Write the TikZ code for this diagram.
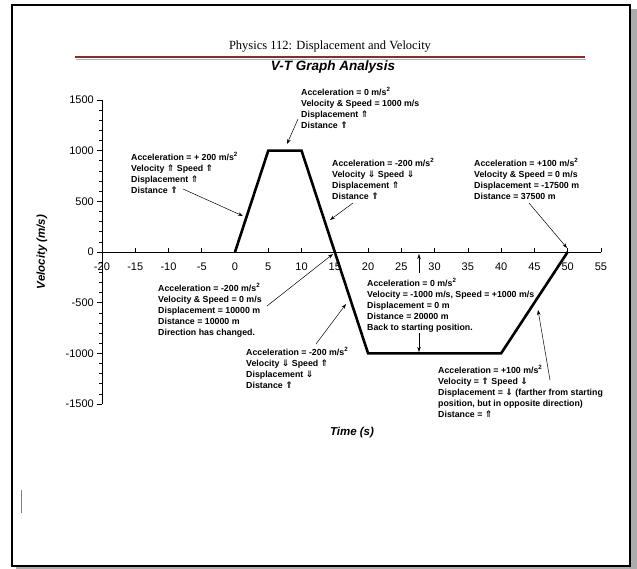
\documentclass[tikz,border=0pt]{standalone}
\usepackage{fontspec}
\setmainfont{Liberation Sans}
\newfontfamily\seriff{Liberation Serif}
\newfontfamily\arrf{DejaVu Sans}
\usetikzlibrary{arrows.meta}
\newcommand\myup{{\arrf\fontsize{9}{11}\selectfont ⇑}}
\newcommand\mydn{{\arrf\fontsize{9}{11}\selectfont ⇓}}
\newcommand\msq{m/s\textsuperscript{2}}
\tikzset{
  ann/.style={anchor=north west, inner sep=0pt, align=left, font=\fontsize{8.8}{11}\selectfont\bfseries},
  arr/.style={line width=0.5pt, -{Stealth[length=5pt,width=3.5pt]}},
  ticklab/.style={inner sep=0pt, font=\fontsize{11}{12}\selectfont},
  curve/.style={line width=2.6pt, line join=miter},
  axisline/.style={line width=0.6pt},
}
\begin{document}
\begin{tikzpicture}[x=1pt,y=-1pt]
\useasboundingbox (0,0) rectangle (637,569);
% page frame with shadow
\fill[gray!65] (16,9) rectangle (637,569);
\filldraw[fill=white, draw=black, line width=1.5pt] (12,5) rectangle (630,566);
% cursor mark
\draw[gray, line width=0.7pt] (21,490) -- (21,513);
% header
\node[inner sep=0pt, font=\seriff\fontsize{12.5}{14}\selectfont] (hdr) at (330,47) {Physics 112: Displacement and Velocity};
\draw[gray!60, line width=0.8pt] (76,59.5) -- (586,59.5);
\draw[color={rgb,255:red,135;green,45;blue,45}, line width=2.4pt] (75,57) -- (585,57);
\node[inner sep=0pt, font=\fontsize{13.5}{15}\selectfont\bfseries\itshape] (ttl) at (333,67) {V-T Graph Analysis};
% axis titles
\node[inner sep=0pt, rotate=90, font=\fontsize{11.5}{13}\selectfont\bfseries\itshape] (ylab) at (42,252) {Velocity (m/s)};
\node[inner sep=0pt, font=\fontsize{11.5}{13}\selectfont\bfseries\itshape] (xlab) at (352,433) {Time (s)};
% plot
\begin{scope}[shift={(235,252)}, x=6.653pt, y=0.10133pt]
  \draw[axisline] (-20,0) -- (55,0);
  \draw[axisline] (-20,-1500) -- (-20,1500);
  \foreach \v in {-1500,-1400,...,1500} \draw[axisline] (-20,\v) -- ++(-2.5pt,0);
  \foreach \v [count=\i] in {-1500,-1000,...,1500} {
    \draw[axisline] (-20,\v) -- ++(-4.5pt,0);
    \node[ticklab, anchor=east] (yl\i) at ([xshift=-8pt]-20,\v) {\v};
  }
  \foreach \t [count=\i] in {-20,-15,...,55} {
    \draw[axisline] (\t,0) -- ++(0,3.5pt);
    \node[ticklab] (xl\i) at ([yshift=-15pt]\t,0) {\t};
  }
  \draw[curve] (0,0) -- (5,1000) -- (10,1000) -- (20,-1000) -- (40,-1000) -- (50,0);
\end{scope}
% annotations
\node[ann] (a1) at (301,87) {Acceleration = 0 \msq\\Velocity \& Speed = 1000 m/s\\Displacement \myup\\Distance \myup};
\node[ann] (a2) at (131,152) {Acceleration = + 200 \msq\\Velocity \myup{} Speed \myup\\Displacement \myup\\Distance \myup};
\node[ann] (a3) at (332,158) {Acceleration = -200 \msq\\Velocity \mydn{} Speed \mydn\\Displacement \myup\\Distance \myup};
\node[ann] (a4) at (474,158) {Acceleration = +100 \msq\\Velocity \& Speed = 0 m/s\\Displacement = -17500 m\\Distance = 37500 m};
\node[ann] (a5) at (158,283) {Acceleration = -200 \msq\\Velocity \& Speed = 0 m/s\\Displacement = 10000 m\\Distance = 10000 m\\Direction has changed.};
\node[ann] (a6) at (246,347) {Acceleration = -200 \msq\\Velocity \mydn{} Speed \myup\\Displacement \mydn\\Distance \myup};
\node[ann] (a7) at (367,278) {Acceleration = 0 \msq\\Velocity = -1000 m/s, Speed = +1000 m/s\\Displacement = 0 m\\Distance = 20000 m\\Back to starting position.};
\node[ann] (a8) at (438,365) {Acceleration = +100 \msq\\Velocity = \myup{} Speed \mydn\\Displacement = \mydn{} (farther from starting\\position, but in opposite direction)\\Distance = \myup};
% arrow end points
\coordinate (s1) at (298,119); \coordinate (e1) at (287,144);
\coordinate (s2) at (183,189); \coordinate (e2) at (243,216);
\coordinate (s3) at (353,203); \coordinate (e3) at (330,220);
\coordinate (s4) at (529,203); \coordinate (e4) at (567,248);
\coordinate (s5) at (267,306); \coordinate (e5) at (333,254);
\coordinate (s6) at (316,344); \coordinate (e6) at (346,304);
\coordinate (s7) at (419,273); \coordinate (e7) at (419,254);
\coordinate (s7b) at (419,333); \coordinate (e7b) at (419,352);
\coordinate (s8) at (550,380); \coordinate (e8) at (538,310);
\draw[arr] (s1) -- (e1);
\draw[arr] (s2) -- (e2);
\draw[arr] (s3) -- (e3);
\draw[arr] (s4) -- (e4);
\draw[arr] (s5) -- (e5);
\draw[arr] (s6) -- (e6);
\draw[arr] (s7) -- (e7);
\draw[arr] (s7b) -- (e7b);
\draw[arr] (s8) -- (e8);
\end{tikzpicture}
\end{document}
